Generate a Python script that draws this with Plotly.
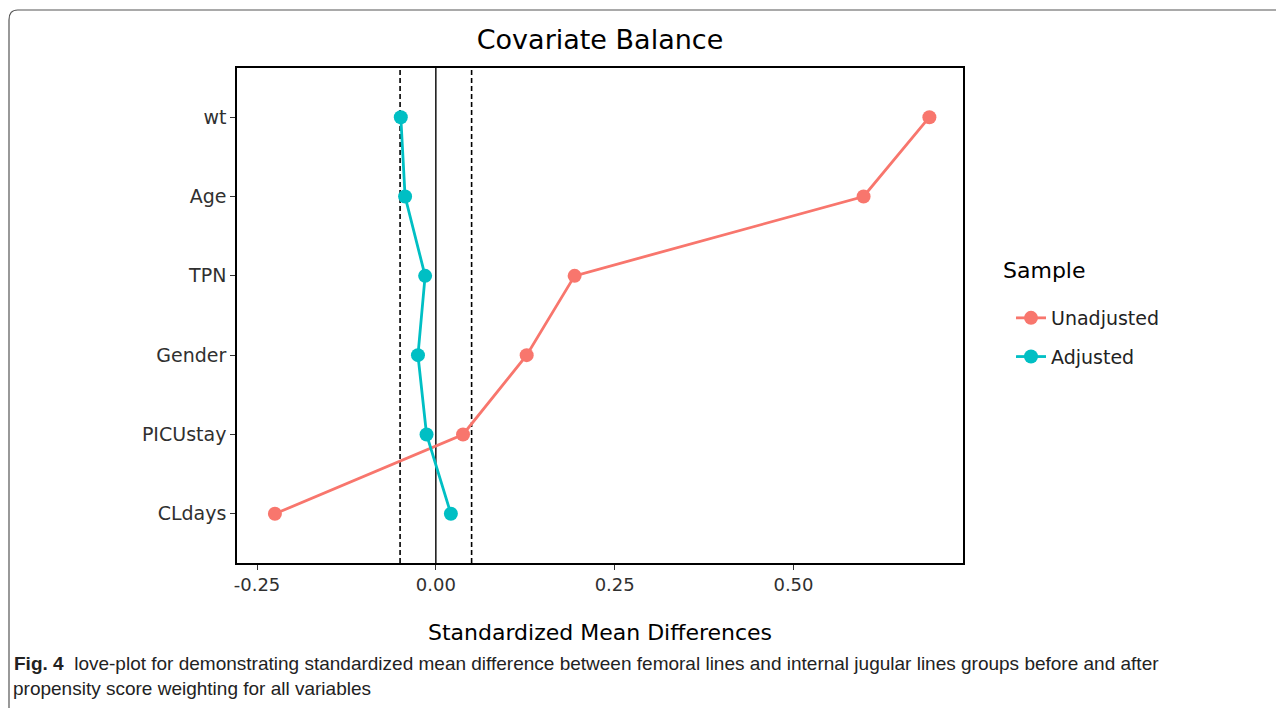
import plotly.graph_objects as go

covariates = ["wt", "Age", "TPN", "Gender", "PICUstay", "CLdays"]
unadjusted = [0.690, 0.598, 0.194, 0.127, 0.038, -0.225]
adjusted = [-0.049, -0.043, -0.015, -0.025, -0.013, 0.021]
threshold = 0.05
x_ticks = [-0.25, 0.0, 0.25, 0.5]
x_tick_text = ["-0.25", "0.00", "0.25", "0.50"]

RED = "#F8766D"
TEAL = "#00BFC4"
FONT = "DejaVu Sans, Liberation Sans, sans-serif"
CAP = "Liberation Sans, Arial, sans-serif"

# page offset (body margin 8px) handled by shrinking the figure
PL, PT = 237, 68          # plot-area left/top in page pixels
PW, PH = 726, 495         # plot-area size

def px(x):
    return (x - PL) / PW

def py(y):
    return (PT + PH - y) / PH

fig = go.Figure()
fig.add_trace(go.Scatter(x=unadjusted, y=covariates, mode="lines+markers", name="Unadjusted",
                         legendgroup="u",
                         line=dict(color=RED, width=2.8), marker=dict(color=RED, size=14)))
fig.add_trace(go.Scatter(x=adjusted, y=covariates, mode="lines+markers", name="Adjusted",
                         legendgroup="a",
                         line=dict(color=TEAL, width=2.8), marker=dict(color=TEAL, size=14)))

fig.add_shape(type="line", xref="x", yref="paper", x0=0, x1=0, y0=0, y1=1,
              line=dict(color="black", width=1.4), layer="below")
for v in (-threshold, threshold):
    fig.add_shape(type="line", xref="x", yref="paper", x0=v, x1=v, y0=0, y1=1,
                  line=dict(color="black", width=1.6, dash="5px,3px"), layer="below")

# outer frame of the figure panel
fx, fy = px(9), py(10)
fig.add_shape(type="path", xref="paper", yref="paper",
              path=f"M {fx} -0.5 L {fx} {fy - 0.02} Q {fx} {fy} {fx + 0.012} {fy} L 1.6 {fy}",
              line=dict(color="#555", width=1.2))

fig.update_layout(
    width=1276, height=700,
    margin=dict(l=PL - 8, r=1284 - (PL + PW), t=PT - 8, b=708 - (PT + PH)),
    paper_bgcolor="white", plot_bgcolor="white",
    title=dict(text="Covariate Balance", x=0.5, xref="paper", xanchor="center",
               y=1 - (40 - 8) / 700, yanchor="middle", font=dict(family=FONT, size=27, color="black")),
    xaxis=dict(range=[-0.278, 0.737], tickvals=x_ticks, ticktext=x_tick_text,
               showline=True, linecolor="black", linewidth=1.6, mirror=True,
               ticks="outside", ticklen=5, tickcolor="#333", tickwidth=1.2,
               showgrid=False, zeroline=False,
               tickfont=dict(family=FONT, size=18, color="#303030")),
    yaxis=dict(type="category", categoryorder="array", categoryarray=covariates[::-1],
               range=[-0.62, 5.62],
               showline=True, linecolor="black", linewidth=1.6, mirror=True,
               ticks="outside", ticklen=5, tickcolor="#333", tickwidth=1.2,
               showgrid=False, zeroline=False,
               tickfont=dict(family=FONT, size=19, color="#303030")),
    legend=dict(x=px(1011), y=py(299), xanchor="left", yanchor="top",
                font=dict(family=FONT, size=19, color="#222"), tracegroupgap=11,
                bgcolor="rgba(0,0,0,0)"),
    showlegend=True,
)

fig.add_annotation(text="Sample", xref="paper", yref="paper", x=px(1001), y=py(270),
                   xanchor="left", yanchor="middle", showarrow=False,
                   font=dict(family=FONT, size=22, color="black"))

fig.add_annotation(text="Standardized Mean Differences", xref="paper", yref="paper",
                   x=0.5, y=py(632), xanchor="center", yanchor="middle",
                   showarrow=False, font=dict(family=FONT, size=22, color="black"))

fig.add_annotation(text="<b>Fig. 4</b>  love-plot for demonstrating standardized mean difference between femoral lines and internal jugular lines groups before and after",
                   xref="paper", yref="paper", x=px(12), y=py(663),
                   xanchor="left", yanchor="middle", showarrow=False,
                   font=dict(family=CAP, size=19, color="#222"))
fig.add_annotation(text="propensity score weighting for all variables",
                   xref="paper", yref="paper", x=px(11), y=py(688),
                   xanchor="left", yanchor="middle", showarrow=False,
                   font=dict(family=CAP, size=19, color="#222"))

fig.write_html("out.html")
